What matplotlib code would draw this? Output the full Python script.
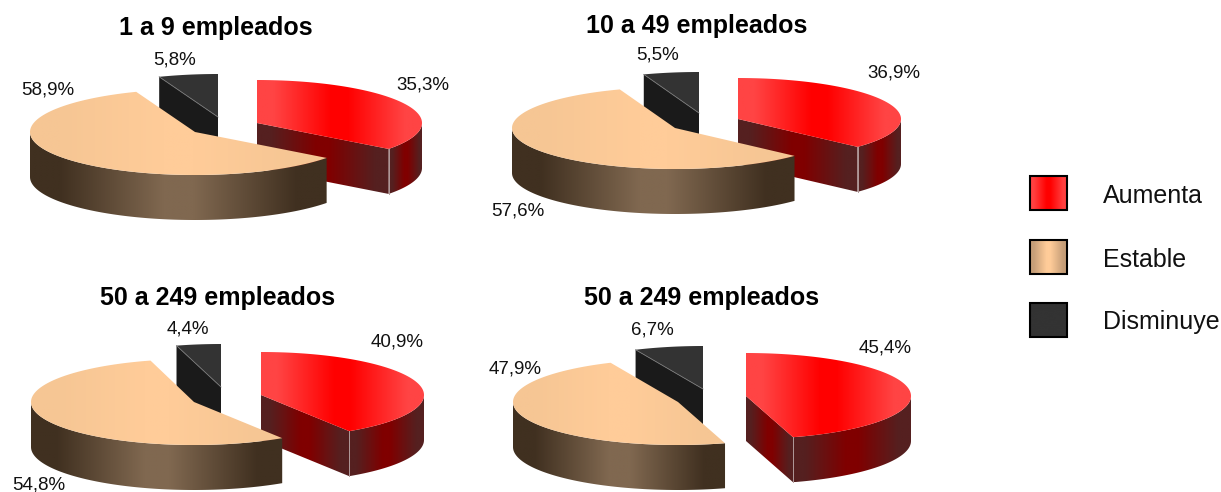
import numpy as np
import matplotlib
matplotlib.use("Agg")
import matplotlib.pyplot as plt
from matplotlib.colors import LinearSegmentedColormap
from matplotlib.patches import Polygon, Rectangle

plt.rcParams['font.family'] = ['Liberation Sans', 'DejaVu Sans']

# data
titles = ["1 a 9 empleados", "10 a 49 empleados", "50 a 249 empleados", "50 a 249 empleados"]
aumenta = [35.3, 36.9, 40.9, 45.4]
estable = [58.9, 57.6, 54.8, 47.9]
disminuye = [5.8, 5.5, 4.4, 6.7]
legend_labels = ["Aumenta", "Estable", "Disminuye"]

# layout, in pixels of the picture
title_pos = [(216, 28), (697, 26), (218, 298), (702, 298)]
red_apex = [(257, 123), (738, 119), (261, 395), (746, 396)]
tan_apex = [(195, 132), (675, 128), (194, 402), (678, 402)]
dark_apex = [(218, 117), (699, 113), (221, 387), (703, 389)]
red_label = [(423, 85), (894, 73), (397, 342), (885, 348)]
tan_label = [(48, 90), (518, 211), (39, 485), (515, 369)]
dark_label = [(175, 60), (658, 55), (188, 329), (652, 330)]
radius_x = [165, 163, 163, 165]
radius_y = [43, 41, 43, 43]
depth = 45

fig = plt.figure(figsize=(12.21, 4.92), dpi=100)
ax = fig.add_axes([0, 0, 1, 1])
ax.set_xlim(0, 1221)
ax.set_ylim(492, 0)
ax.axis("off")
ax.set_autoscale_on(False)


def gradfill(verts, edge, mid):
    # horizontal edge-mid-edge gradient clipped to a polygon, flat at both ends
    verts = np.array(verts)
    stops = [(0, edge), (0.1, edge), (0.45, mid), (0.55, mid), (0.9, edge), (1, edge)]
    cmap = LinearSegmentedColormap.from_list("g", stops)
    grad = np.linspace(0, 1, 256).reshape(1, -1)
    im = ax.imshow(grad, cmap=cmap, aspect="auto", interpolation="bilinear",
                   extent=(verts[:, 0].min(), verts[:, 0].max(), verts[:, 1].max(), verts[:, 1].min()))
    im.set_clip_path(Polygon(verts, closed=True, transform=ax.transData))


def arc(apex, rx, ry, a0, a1, dy=0):
    # angles in degrees clockwise from 12 o'clock
    t = np.radians(np.linspace(a0, a1, 120))
    return np.column_stack([apex[0] + rx*np.sin(t), apex[1] - ry*np.cos(t) + dy])


def draw_red(apex, rx, ry, value):
    end = value*3.6
    top = arc(apex, rx, ry, 0, end)
    tip = top[-1]
    inner = [apex, tip, (tip[0], tip[1]+depth), (apex[0], apex[1]+depth)]
    gradfill(inner, "#552020", "#800000")
    if end > 90:
        a = arc(apex, rx, ry, 90, end)
        gradfill(np.vstack([a, (a + [0, depth])[::-1]]), "#552020", "#800000")
    gradfill(np.vstack([[apex], top]), "#ff4444", "#ff0000")
    ax.plot([tip[0], tip[0]], [tip[1], tip[1]+depth], color="#b09a9a", lw=0.7, zorder=0)


def draw_tan(apex, rx, ry, start, value):
    end = start + value*3.6
    a = arc(apex, rx, ry, start, 270)
    gradfill(np.vstack([a, (a + [0, depth])[::-1]]), "#403020", "#806850")
    gradfill(np.vstack([[apex], arc(apex, rx, ry, start, end)]), "#f6c694", "#ffcc99")


def draw_dark(apex, rx, ry, value):
    top = arc(apex, rx, ry, 360 - value*3.6, 360)
    start = top[0]
    ax.add_patch(Polygon([start, apex, (apex[0], apex[1]+depth), (start[0], start[1]+depth)],
                         closed=True, fc="#1a1a1a", ec="none", zorder=0))
    ax.add_patch(Polygon(np.vstack([[apex], top]), closed=True, fc="#333333", ec="none", zorder=0))
    ax.plot([start[0], apex[0]], [start[1], apex[1]], color="#777777", lw=0.6, zorder=0)


def pct(v):
    return ("%.1f%%" % v).replace(".", ",")


for i in range(4):
    rx, ry = radius_x[i], radius_y[i]
    draw_dark(dark_apex[i], rx, ry, disminuye[i])
    draw_red(red_apex[i], rx, ry, aumenta[i])
    draw_tan(tan_apex[i], rx, ry, aumenta[i]*3.6, estable[i])
    ax.text(*title_pos[i], titles[i], fontsize=18, fontweight="bold", ha="center", va="center")
    ax.text(*red_label[i], pct(aumenta[i]), fontsize=13.5, ha="center", va="center", color="#111111")
    ax.text(*tan_label[i], pct(estable[i]), fontsize=13.5, ha="center", va="center", color="#111111")
    ax.text(*dark_label[i], pct(disminuye[i]), fontsize=13.5, ha="center", va="center", color="#111111")

# legend
swatch_y = [176, 240, 303]
text_y = [203, 267, 329]
swatch_cols = [("#ff4040", "#ff0000"), ("#c69e78", "#ffcc99"), ("#333333", "#333333")]
for lab, y, ty, (edge, mid) in zip(legend_labels, swatch_y, text_y, swatch_cols):
    box = [(1030, y), (1067, y), (1067, y+34), (1030, y+34)]
    gradfill(box, edge, mid)
    ax.add_patch(Rectangle((1030, y), 37, 34, fc="none", ec="black", lw=1.5))
    ax.text(1103, ty, lab, fontsize=18, ha="left", va="baseline", color="#111111")

fig.savefig("out.png", dpi=100)
